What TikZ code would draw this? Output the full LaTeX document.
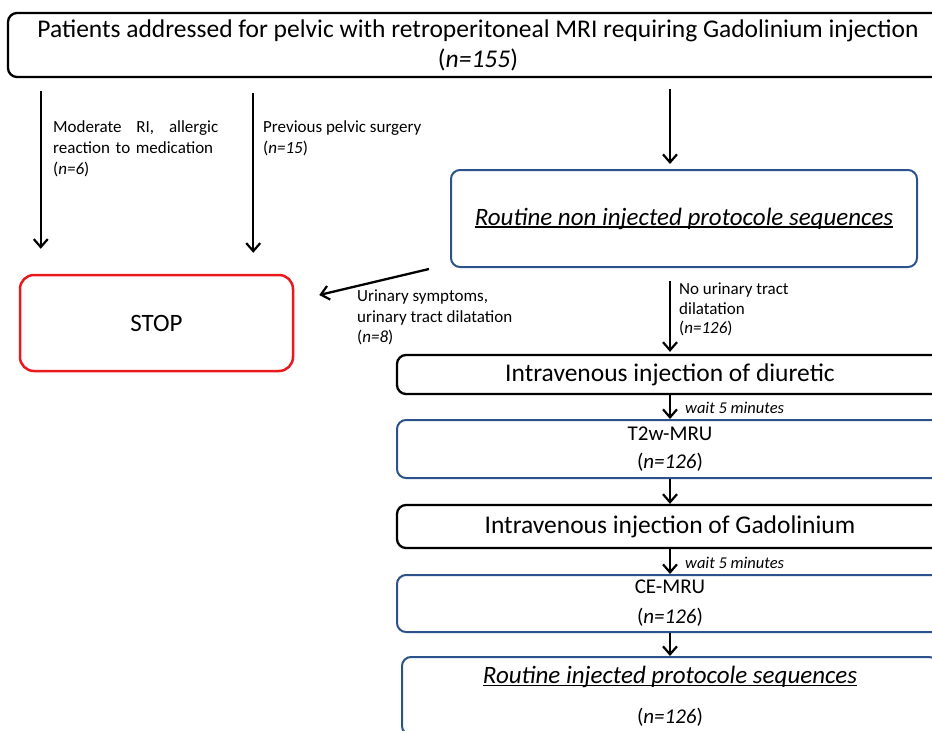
\documentclass[tikz,border=0pt]{standalone}
\usepackage{fontspec}
\setmainfont{Carlito}
\usetikzlibrary{arrows.meta,positioning}
\definecolor{boxblue}{RGB}{44,82,140}
\definecolor{stopred}{RGB}{235,25,30}
\newlength\ulwidth
\newcommand{\ulbase}[1]{\settowidth{\ulwidth}{#1}\rlap{\rule[-2.8pt]{\ulwidth}{1.4pt}}#1}

\tikzset{
  box/.style={draw, line width=2.3pt, rounded corners=9pt, align=center, inner sep=0pt},
  bluebox/.style={box, draw=boxblue, line width=2pt},
  redbox/.style={box, draw=stopred, line width=2.5pt, rounded corners=14pt},
  arr/.style={-{Straight Barb[length=8pt,width=14pt,line width=2.2pt]}, line width=2.3pt},
  lbl/.style={font=\fontsize{17}{20.5}\selectfont, inner sep=0pt, anchor=north west, align=left},
  waitlbl/.style={font=\fontsize{16.5}{18}\selectfont\itshape, inner sep=0pt, anchor=west},
}

\begin{document}
\begin{tikzpicture}[x=1pt,y=-1pt]
\useasboundingbox (0,0) rectangle (932,731);
\clip (0,0) rectangle (932,731);

% boxes
\node[box, minimum width=940pt, minimum height=64pt, font=\fontsize{25.5}{30}\selectfont] (top) at (478,45)
  {Patients addressed for pelvic with retroperitoneal MRI requiring Gadolinium injection\\(\textit{n=155})};
\node[bluebox, minimum width=466pt, minimum height=97pt, font=\fontsize{25}{28}\selectfont] (routine) at (684,218.5)
  {\ulbase{\textit{Routine non injected protocole sequences}}};
\node[redbox, minimum width=273pt, minimum height=96pt, font=\fontsize{25}{28}\selectfont] (stop) at (156.5,323) {STOP};
\node[box, minimum width=546pt, minimum height=39pt, font=\fontsize{25.5}{28}\selectfont] (diur) at (670,374.5)
  {Intravenous injection of diuretic};
\node[bluebox, minimum width=546pt, minimum height=58pt, font=\fontsize{21}{28}\selectfont] (t2w) at (670,449)
  {T2w-MRU\\(\textit{n=126})};
\node[box, minimum width=546pt, minimum height=43pt, font=\fontsize{25.5}{28}\selectfont] (gad) at (670,526.5)
  {Intravenous injection of Gadolinium};
\node[bluebox, minimum width=546pt, minimum height=57pt, font=\fontsize{21}{30}\selectfont] (ce) at (670,603.5)
  {CE-MRU\\(\textit{n=126})};
\node[bluebox, minimum width=536pt, minimum height=78pt, font=\fontsize{25}{40}\selectfont] (inj) at (670,696)
  {\ulbase{\textit{Routine injected protocole sequences}}\\{\fontsize{21}{40}\selectfont(\textit{n=126})}};

% exclusions
\draw[arr, shorten <=13pt, shorten >=25pt] ([xshift=22pt]stop.north west |- top.south) -- ([xshift=22pt]stop.north west);
\node[lbl, text width=165pt, font=\fontsize{17}{21}\selectfont] (why1) at (53,120)
  {Moderate\hfill RI,\hfill allergic\\reaction to medication\\(\textit{n=6})};
\draw[arr, shorten <=15pt, shorten >=21pt] ([xshift=-41pt]stop.north east |- top.south) -- ([xshift=-41pt]stop.north east);
\node[lbl, font=\fontsize{17}{21}\selectfont] (why2) at (263,120) {Previous pelvic surgery\\(\textit{n=15})};

% main path
\draw[arr, shorten <=11pt, shorten >=5pt] (diur.north |- top.south) -- (diur.north |- routine.north);
\draw[arr] ([xshift=-21pt,yshift=-1pt]routine.south west) -- ([xshift=25pt,yshift=28pt]stop.east);
\node[lbl] (why3) at (357,290) {Urinary symptoms,\\urinary tract dilatation\\(\textit{n=8})};
\draw[arr, shorten <=13pt, shorten >=2pt] (diur.north |- routine.south) -- (diur.north);
\node[lbl, font=\fontsize{17}{19.5}\selectfont] (keep) at (679,283) {No urinary tract\\dilatation\\(\textit{n=126})};

\draw[arr] (diur.south) -- (t2w.north);
\node[waitlbl] (wait1) at (685,408) {wait 5 minutes};
\draw[arr] (t2w.south) -- (gad.north);
\draw[arr] (gad.south) -- (ce.north);
\node[waitlbl] (wait2) at (685,563) {wait 5 minutes};
\draw[arr] (ce.south) -- (inj.north);
\end{tikzpicture}
\end{document}
